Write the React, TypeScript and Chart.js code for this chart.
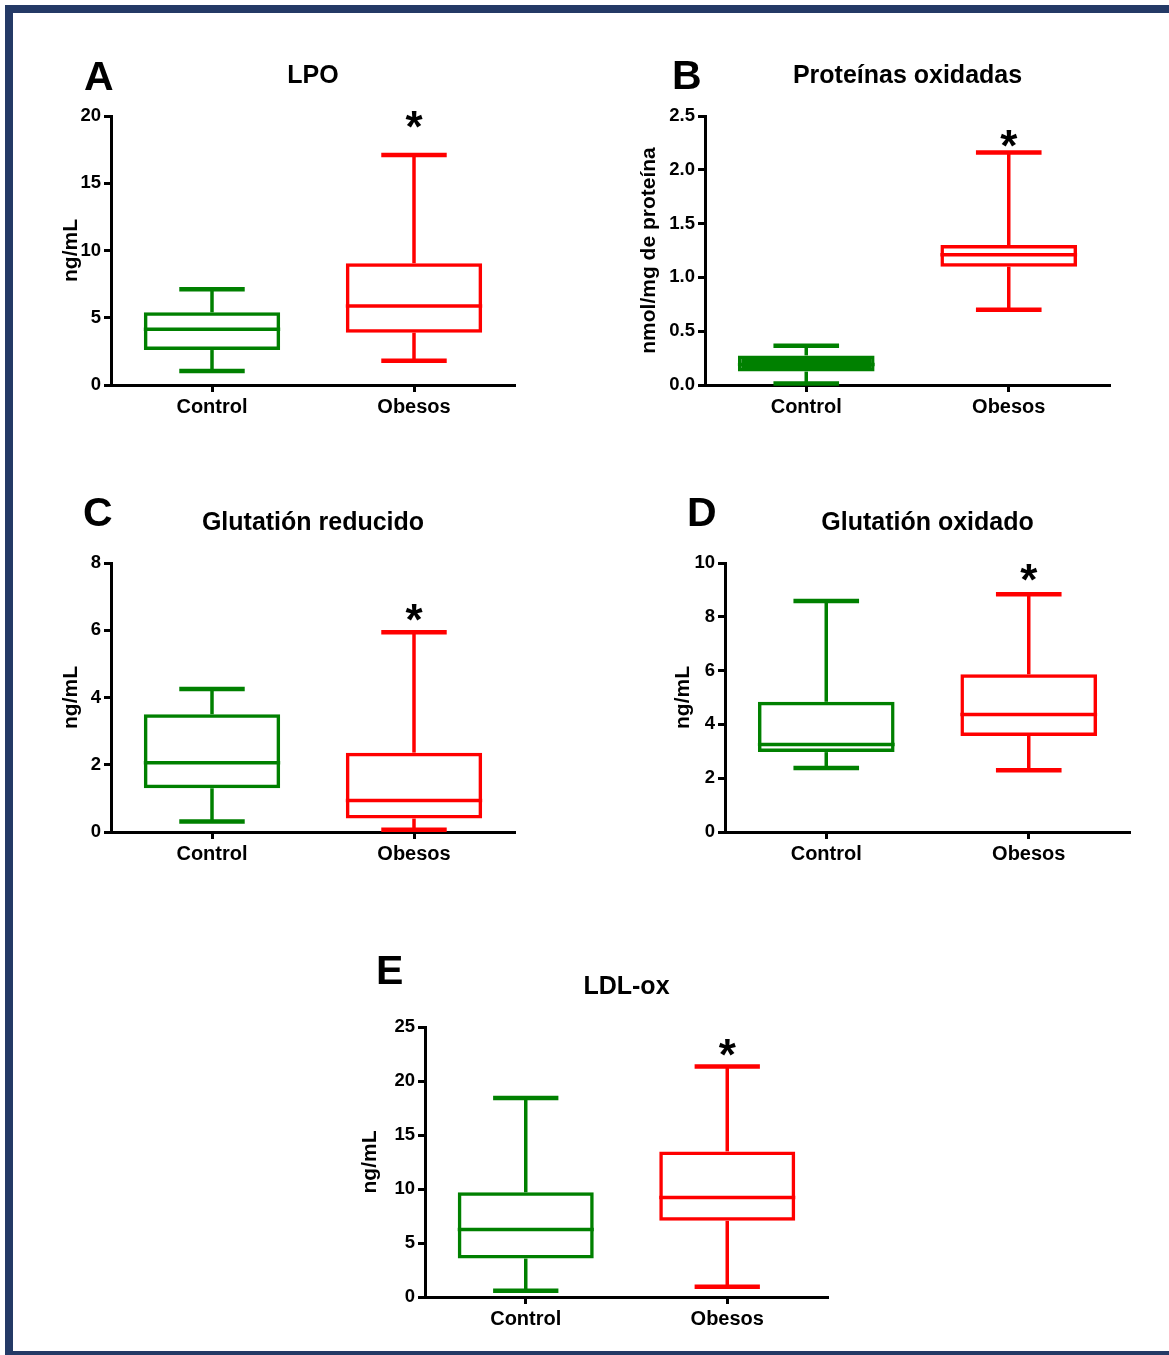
import React, { useEffect, useRef } from "react";
import { Chart, registerables } from "chart.js";

Chart.register(...registerables);

// ---------------- data ----------------
const categories = ["Control", "Obesos"];

// each group: [min, Q1, median, Q3, max]
const lpoControl = [1.04, 2.6, 4.14, 5.4, 7.11];
const lpoObesos = [1.81, 3.89, 5.87, 9.05, 17.1];
const protControl = [0.015, 0.125, 0.19, 0.275, 0.365];
const protObesos = [0.7, 1.1, 1.21, 1.3, 2.16];
const gshControl = [0.31, 1.3, 2.06, 3.5, 4.25];
const gshObesos = [0.065, 0.4, 0.94, 2.36, 5.94];
const gssgControl = [2.38, 2.97, 3.25, 4.84, 8.59];
const gssgObesos = [2.3, 3.57, 4.37, 5.86, 8.84];
const ldlControl = [0.58, 3.56, 6.25, 9.69, 18.42];
const ldlObesos = [0.96, 7.05, 9.21, 13.48, 21.34];

const panelLetters = ["A", "B", "C", "D", "E"];
const panelTitles = ["LPO", "Proteínas oxidadas", "Glutatión reducido", "Glutatión oxidado", "LDL-ox"];
const yAxisTitles = ["ng/mL", "nmol/mg de proteína", "ng/mL", "ng/mL", "ng/mL"];
const yMax = [20, 2.5, 8, 10, 25];
const yStep = [5, 0.5, 2, 2, 5];
const yDecimals = [0, 1, 0, 0, 0];
const asteriskValues = [19.9, 2.31, 6.59, 9.7, 23.3];

const panelGroups = [
  [lpoControl, lpoObesos],
  [protControl, protObesos],
  [gshControl, gshObesos],
  [gssgControl, gssgObesos],
  [ldlControl, ldlObesos],
];

// ---------------- layout & style ----------------
const FONT = '"Liberation Sans", Arial, Helvetica, sans-serif';
const GREEN = "#008000";
const RED = "#ff0000";
const INK = "#000000";
const FRAME = "#243a66";
const groupColors = [GREEN, RED];

// plot-area rectangles in page pixels, plus offsets of decorations
const LAYOUT = [
  { left: 111, top: 116, right: 515, bottom: 385, letterDx: -27, letterDy: -26, yTitleDx: -40 },
  { left: 705, top: 116, right: 1110, bottom: 385, letterDx: -33, letterDy: -27, yTitleDx: -56 },
  { left: 111, top: 563, right: 515, bottom: 832, letterDx: -28, letterDy: -37, yTitleDx: -40 },
  { left: 725, top: 563, right: 1130, bottom: 832, letterDx: -38, letterDy: -37, yTitleDx: -42 },
  { left: 425, top: 1027, right: 828, bottom: 1297, letterDx: -49, letterDy: -43, yTitleDx: -55 },
];

const YW = 80;
const XH = 50;
const TOP_SPACE = 100;
const RIGHT_SPACE = 30;

const TICK_FONT = 18.5;
const CAT_FONT = 20;
const YTITLE_FONT = 21;
const TITLE_FONT = 25;
const LETTER_FONT = 41;
const STAR_FONT = 44;

function Panel({ index }: { index: number }) {
  const ref = useRef<HTMLCanvasElement | null>(null);
  const L = LAYOUT[index];
  const canvasLeft = L.left - YW;
  const canvasTop = L.top - TOP_SPACE;
  const width = L.right - canvasLeft + RIGHT_SPACE;
  const height = L.bottom - canvasTop + XH;

  useEffect(() => {
    const groups = panelGroups[index];
    const yTitleCenter = YW + L.yTitleDx;
    const yTitlePad = yTitleCenter - (YTITLE_FONT * 1.2) / 2;

    const decor = {
      id: "decor" + index,
      afterDatasetsDraw(chart: any) {
        const ctx = chart.ctx;
        const meta = chart.getDatasetMeta(0);
        const ys = chart.scales.y;
        const p = (v: number) => ys.getPixelForValue(v);
        const line = (x1: number, y1: number, x2: number, y2: number) => {
          ctx.beginPath();
          ctx.moveTo(x1, y1);
          ctx.lineTo(x2, y2);
          ctx.stroke();
        };
        meta.data.forEach((el: any, j: number) => {
          const [mn, q1, md, q3, mx] = groups[j];
          const x = el.x;
          const w = el.width;
          const capW = w * 0.48;
          ctx.save();
          ctx.strokeStyle = groupColors[j];
          ctx.lineCap = "butt";
          ctx.lineWidth = 3.5;
          line(x, p(q3), x, p(mx));
          line(x, p(q1), x, p(mn));
          line(x - w / 2, p(md), x + w / 2, p(md));
          ctx.lineWidth = 4.5;
          line(x - capW / 2, p(mx), x + capW / 2, p(mx));
          line(x - capW / 2, p(mn), x + capW / 2, p(mn));
          ctx.restore();
        });
      },
      afterDraw(chart: any) {
        const ctx = chart.ctx;
        const ca = chart.chartArea;
        const meta = chart.getDatasetMeta(0);
        const ys = chart.scales.y;
        ctx.save();
        ctx.fillStyle = INK;
        ctx.textBaseline = "alphabetic";
        ctx.textAlign = "left";
        ctx.font = `bold ${LETTER_FONT}px ${FONT}`;
        ctx.fillText(panelLetters[index], ca.left + L.letterDx, ca.top + L.letterDy);
        ctx.textAlign = "center";
        ctx.font = `bold ${TITLE_FONT}px ${FONT}`;
        ctx.fillText(panelTitles[index], (ca.left + ca.right) / 2, ca.top - 33);
        ctx.font = `bold ${STAR_FONT}px ${FONT}`;
        const starX = meta.data[1].x;
        const starY = ys.getPixelForValue(asteriskValues[index]) + STAR_FONT * 0.55;
        ctx.fillText("*", starX, starY);
        ctx.restore();
      },
    };

    const chart = new Chart(ref.current as HTMLCanvasElement, {
      type: "bar",
      data: {
        labels: categories,
        datasets: [
          {
            data: groups.map((g) => [g[1], g[3]]) as any,
            borderColor: groupColors,
            backgroundColor: (c: any) => {
              const g = groups[c.dataIndex];
              const ys = c.chart.scales && c.chart.scales.y;
              if (!g || !ys) return "rgba(0,0,0,0)";
              const h = ys.getPixelForValue(g[1]) - ys.getPixelForValue(g[3]);
              return h < 18 ? groupColors[c.dataIndex] : "rgba(0,0,0,0)";
            },
            borderWidth: 3.5,
            borderSkipped: false,
            inflateAmount: 0,
            barPercentage: 0.675,
            categoryPercentage: 1,
          } as any,
        ],
      },
      options: {
        responsive: false,
        maintainAspectRatio: false,
        animation: false,
        devicePixelRatio: 1,
        layout: { padding: { left: 0, top: TOP_SPACE, right: RIGHT_SPACE, bottom: 0 } },
        plugins: {
          legend: { display: false },
          tooltip: { enabled: false },
          title: { display: false },
        },
        scales: {
          x: {
            type: "category",
            offset: true,
            ticks: {
              color: INK,
              font: { family: FONT, size: CAT_FONT, weight: "bold" },
              padding: 3,
              maxRotation: 0,
            },
            grid: {
              display: true,
              offset: false,
              drawOnChartArea: false,
              drawTicks: true,
              tickLength: 7,
              tickWidth: 3,
              tickColor: INK,
            },
            border: { display: true, color: INK, width: 3 },
            afterFit: (s: any) => {
              s.height = XH;
            },
          },
          y: {
            type: "linear",
            min: 0,
            max: yMax[index],
            ticks: {
              stepSize: yStep[index],
              color: INK,
              font: { family: FONT, size: TICK_FONT, weight: "bold" },
              padding: 3,
              callback: (v: any) => Number(v).toFixed(yDecimals[index]),
            },
            grid: {
              display: true,
              drawOnChartArea: false,
              drawTicks: true,
              tickLength: 7,
              tickWidth: 3,
              tickColor: INK,
            },
            border: { display: true, color: INK, width: 3 },
            title: {
              display: true,
              text: yAxisTitles[index],
              color: INK,
              font: { family: FONT, size: YTITLE_FONT, weight: "bold" },
              padding: { top: yTitlePad, bottom: 0 },
            },
            afterFit: (s: any) => {
              s.width = YW;
            },
          },
        },
      } as any,
      plugins: [decor],
    });
    return () => chart.destroy();
  }, [index]);

  return (
    <canvas
      ref={ref}
      width={width}
      height={height}
      style={{ position: "absolute", left: canvasLeft, top: canvasTop, width, height }}
    />
  );
}

export default function App() {
  return (
    <div
      style={{
        position: "fixed",
        left: 0,
        top: 0,
        width: 1169,
        height: 1355,
        overflow: "hidden",
        background: "#ffffff",
      }}
    >
      <div
        style={{
          position: "absolute",
          left: 5,
          top: 5,
          width: 1300,
          height: 1354,
          boxSizing: "border-box",
          borderLeft: `8px solid ${FRAME}`,
          borderTop: `8px solid ${FRAME}`,
          borderBottom: `8px solid ${FRAME}`,
        }}
      />
      {panelLetters.map((_, i) => (
        <Panel key={i} index={i} />
      ))}
    </div>
  );
}
